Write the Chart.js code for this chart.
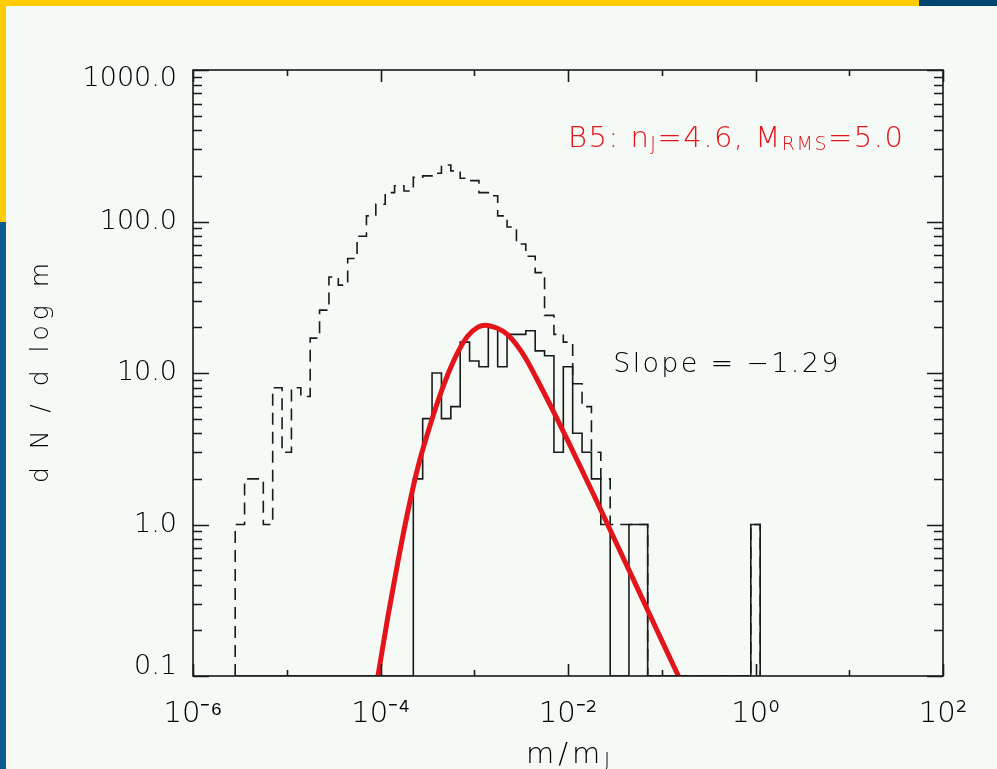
<!DOCTYPE html>
<html>
<head>
<meta charset="utf-8">
<script src="https://cdn.jsdelivr.net/npm/chart.js@4/dist/chart.umd.min.js"></script>
<style>
html,body{margin:0;padding:0;background:#f5faf6;overflow:hidden}
#wrap{position:relative;width:997px;height:769px;background:#f5faf6}
#wrap canvas{position:absolute;left:0;top:0}
.deco{position:absolute}
</style>
</head>
<body>
<div id="wrap">
<canvas id="c" width="997" height="769"></canvas>
<div class="deco" style="left:0;top:0;width:919px;height:6px;background:#ffcc00"></div>
<div class="deco" style="left:919px;top:0;width:78px;height:6px;background:#00466e"></div>
<div class="deco" style="left:0;top:0;width:6px;height:222px;background:#ffcc00"></div>
<div class="deco" style="left:0;top:222px;width:6px;height:547px;background:#0a5c8e"></div>
</div>
<script>
// ---------------- data ----------------
// histogram bin edges, log10(m/mJ)
const binEdgesLog = [-5.55,-5.45,-5.35,-5.25,-5.15,-5.05,-4.95,-4.85,-4.75,-4.65,
  -4.55,-4.45,-4.35,-4.25,-4.15,-4.05,-3.95,-3.85,-3.75,-3.65,
  -3.55,-3.45,-3.35,-3.25,-3.15,-3.05,-2.95,-2.85,-2.75,-2.65,
  -2.55,-2.45,-2.35,-2.25,-2.15,-2.05,-1.95,-1.85,-1.75,-1.65,
  -1.55,-1.45,-1.35,-1.25,-1.15,-1.05,-0.95,-0.85,-0.75,-0.65,
  -0.55,-0.45,-0.35,-0.25,-0.15,-0.05,0.05];
// dashed histogram (all objects), dN/dlog m per bin
const allCounts = [1,2,2,1,8,3,8,7,17,26,
  43,38,57,80,109,130,155,172,159,196,
  200,208,236,216,193,186,155,148,109,92,
  71,59,46,24,18,16,8.5,6,3,2,
  1,1,1,1,0,0,0,0,0,0,
  0,0,0,0,0,1];
// solid histogram
const solidCounts = [0,0,0,0,0,0,0,0,0,0,
  0,0,0,0,0,0,0,0,0,2,
  5,10,5,6,16,12,11,20,11,18,
  18,19,14,13,3,11,4,3,2,1,
  0,0,1,1,0,0,0,0,0,0,
  0,0,0,0,0,1];
// red fit curve
const fitLogM   = [-4.052,-4.027,-3.920,-3.813,-3.707,-3.600,-3.493,-3.387,-3.280,-3.173,-3.067,-2.960,-2.885,
  -2.761,-2.654,-2.547,-2.441,-2.299,-2.157,-2.014,-1.872,-1.730,-1.587,-1.445,-1.303,-1.161,-0.997,-0.795];
const fitValues = [0.081,0.100,0.249,0.574,1.23,2.40,4.08,6.54,9.85,13.8,17.6,20.1,20.7,
  19.8,18.1,15.3,12.2,8.33,5.61,3.70,2.43,1.59,1.03,0.668,0.434,0.281,0.170,0.092];
// axes
const xTickValues = [1e-6,1e-4,1e-2,1,1e2];
const xTickLabels = ['10\u207B\u2076','10\u207B\u2074','10\u207B\u00B2','10\u2070','10\u00B2'];
const yTickValues = [0.1,1,10,100,1000];
const yTickLabels = ['0.1','1.0','10.0','100.0','1000.0'];
const yTitleRuns = [['d N / d log m',0]];
const xTitleRuns = [['m/m',0],['J',1]];
const modelLabelRuns = [['B5: n',0],['J',1],['=4.6, M',0],['RMS',1],['=5.0',0]];
const slopeLabelRuns = [['Slope = \u22121.29',0]];
// annotation anchors in data coordinates [x, y]
const modelLabelAnchor = [1e-2, 312];
const slopeLabelAnchor = [0.0304, 10.2];

// ---------------- build ----------------
const FONT = '"DejaVu Sans", "Liberation Sans", sans-serif';
const INK = '#1a1a1a';
const TEXT = '#000000';
const RED = '#e3141a';
const yFloor = yTickValues[0];

function stepPoints(edges, counts){
  const pts = [{x: Math.pow(10, edges[0]), y: yFloor}];
  counts.forEach((c,i) => pts.push({x: Math.pow(10, edges[i]), y: c > 0 ? c : yFloor}));
  pts.push({x: Math.pow(10, edges[edges.length-1]), y: yFloor});
  return pts;
}
const fitPoints = fitLogM.map((l,i) => ({x: Math.pow(10,l), y: fitValues[i]}));

function drawRuns(ctx, runs, x0, y0, size, color, spacing, align){
  const subScale = 0.66, subDrop = 0.12*size;
  ctx.fillStyle = color;
  ctx.textBaseline = 'alphabetic';
  ctx.textAlign = 'left';
  try { ctx.letterSpacing = spacing + 'px'; } catch(e){}
  const widths = runs.map(([t,s]) => {
    ctx.font = `200 ${s ? Math.round(size*subScale) : size}px ${FONT}`;
    return ctx.measureText(t).width;
  });
  const total = widths.reduce((a,b)=>a+b,0) - spacing;
  let x = align === 'center' ? x0 - total/2 : x0;
  runs.forEach(([t,s],i) => {
    ctx.font = `200 ${s ? Math.round(size*subScale) : size}px ${FONT}`;
    ctx.fillText(t, x, y0 + (s ? subDrop : 0));
    x += widths[i];
  });
  try { ctx.letterSpacing = '0px'; } catch(e){}
}

const framePlugin = {
  id: 'frame',
  beforeDraw(chart){
    // IDL keeps the end labels of the y axis inside the axis range
    const items = chart.scales.y.getLabelItems();
    if (items.length){
      items[0].options.translation[1] -= 9;
      items[items.length-1].options.translation[1] += 9;
    }
  },
  afterDatasetsDraw(chart){
    const {ctx, chartArea: a, scales: {x, y}} = chart;
    ctx.save();
    ctx.strokeStyle = INK;
    ctx.lineWidth = 1.6;
    ctx.strokeRect(a.left, a.top, a.right - a.left, a.bottom - a.top);
    ctx.beginPath();
    // y ticks: majors at decades, minors 2..9
    for (let e = -1; e <= 3; e++){
      for (let k = 1; k <= 9; k++){
        const v = k * Math.pow(10, e);
        if (v > 1000.0001) break;
        const py = Math.round(y.getPixelForValue(v)) + 0.5;
        const L = k === 1 ? 16 : 9;
        ctx.moveTo(a.left, py); ctx.lineTo(a.left + L, py);
        ctx.moveTo(a.right, py); ctx.lineTo(a.right - L, py);
      }
    }
    // x ticks: majors every 2 decades, minors every decade
    for (let e = -6; e <= 2; e++){
      const px = Math.round(x.getPixelForValue(Math.pow(10, e))) + 0.5;
      const L = (e % 2 === 0) ? 12 : 6;
      ctx.moveTo(px, a.bottom); ctx.lineTo(px, a.bottom - L);
      ctx.moveTo(px, a.top); ctx.lineTo(px, a.top + L);
    }
    ctx.stroke();
    // annotations
    drawRuns(ctx, modelLabelRuns, x.getPixelForValue(modelLabelAnchor[0]), y.getPixelForValue(modelLabelAnchor[1]), 29, RED, 1.5, 'left');
    drawRuns(ctx, slopeLabelRuns, x.getPixelForValue(slopeLabelAnchor[0]), y.getPixelForValue(slopeLabelAnchor[1]), 27, TEXT, 2.3, 'left');
    // x axis title
    drawRuns(ctx, xTitleRuns, (x.left + x.right)/2, 763, 29, TEXT, 4, 'center');
    // y axis title (rotated, reading upward)
    ctx.save();
    ctx.translate(y.left + 41, (y.top + y.bottom)/2);
    ctx.rotate(-Math.PI/2);
    drawRuns(ctx, yTitleRuns, 0, 6.5, 25, TEXT, 5, 'center');
    ctx.restore();
    ctx.restore();
  }
};

new Chart(document.getElementById('c'), {
  type: 'line',
  data: {
    datasets: [
      {label: 'fit', data: fitPoints, borderColor: RED, borderWidth: 5, pointRadius: 0,
       cubicInterpolationMode: 'monotone', fill: false, order: 0},
      {label: 'solid', data: stepPoints(binEdgesLog, solidCounts), borderColor: INK, borderWidth: 1.6,
       pointRadius: 0, stepped: true, fill: false, order: 1},
      {label: 'all', data: stepPoints(binEdgesLog, allCounts), borderColor: INK, borderWidth: 1.6,
       borderDash: [12, 7], pointRadius: 0, stepped: true, fill: false, order: 2}
    ]
  },
  options: {
    responsive: false,
    animation: false,
    devicePixelRatio: 1,
    layout: {padding: {left: 0, right: 54, top: 70, bottom: 0}},
    plugins: {legend: {display: false}, tooltip: {enabled: false}},
    scales: {
      x: {
        type: 'logarithmic', min: 1e-6, max: 1e2,
        afterBuildTicks: s => { s.ticks = xTickValues.map(v => ({value: v})); },
        afterFit: s => { s.height = 93; },
        grid: {display: false, drawTicks: false},
        border: {display: false},
        ticks: {
          autoSkip: false, maxRotation: 0, padding: 21, color: TEXT,
          font: {family: FONT, size: 29, weight: '200'},
          callback: (v, i) => xTickLabels[i]
        },
        title: {display: false}
      },
      y: {
        type: 'logarithmic', min: 0.1, max: 1000,
        afterBuildTicks: s => { s.ticks = yTickValues.map(v => ({value: v})); },
        afterFit: s => { s.width = 193; },
        grid: {display: false, drawTicks: false},
        border: {display: false},
        ticks: {
          autoSkip: false, padding: 16, color: TEXT,
          font: {family: FONT, size: 27, weight: '200'},
          callback: (v, i) => yTickLabels[i]
        },
        title: {display: false}
      }
    }
  },
  plugins: [framePlugin]
});
</script>
</body>
</html>
